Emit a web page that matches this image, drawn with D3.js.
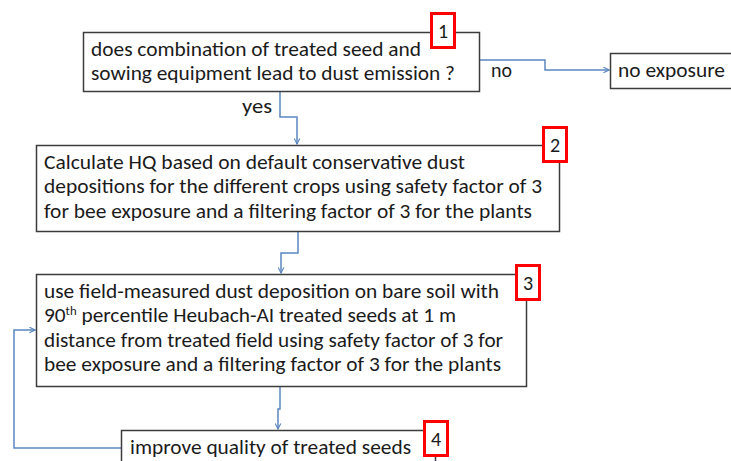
<!DOCTYPE html>
<html>
<head>
<meta charset="utf-8">
<script src="https://cdn.jsdelivr.net/npm/d3@7"></script>
<style>
  html, body { margin: 0; padding: 0; background: #fff; }
  svg text { font-family: Carlito, Calibri, Lato, sans-serif; fill: #1b1b1b; }
</style>
</head>
<body>
<div id="chart"></div>
<script>
// Flow chart content
const stepLines = [
    ["does combination of treated seed and",
     "sowing equipment lead to dust emission ?"],
    ["Calculate HQ based on default conservative dust",
     "depositions for the different crops using safety factor of 3",
     "for bee exposure and a filtering factor of 3 for the plants"],
    ["use field-measured dust deposition on bare soil with",
     "90|th| percentile Heubach-AI treated seeds at 1 m",
     "distance from treated field using safety factor of 3 for",
     "bee exposure and a filtering factor of 3 for the plants"],
    ["improve quality of treated seeds"]
];
const stepNumbers = ["1", "2", "3", "4"];
const branchLabels = ["yes", "no"];
const endLabel = "no exposure";

// Layout (pixels)
const width = 731, height = 461;
const boxes = [
    {x: 83,  y: 32,  w: 396, h: 59},
    {x: 36,  y: 145, w: 523, h: 86},
    {x: 36,  y: 274, w: 490, h: 112},
    {x: 121, y: 430, w: 314, h: 60}
];
const lineWidths = [
    [330, 364],
    [421, 498, 488],
    [455, 412, 459, 457],
    [281]
];
const textPad = [8, 8, 8, 9];
const badges = [
    {x: 430, y: 12}, {x: 542, y: 126}, {x: 515, y: 264}, {x: 423, y: 420}
];
const endBox = {x: 610, y: 53, w: 140, h: 35};
const connectors = [
    [[280, 91], [280, 117], [297, 117], [297, 144]],
    [[479, 60], [545, 60], [545, 70], [609, 70]],
    [[298, 231], [298, 253], [281, 253], [281, 273]],
    [[280, 386], [280, 409], [278, 409], [278, 429]],
    [[121, 448], [14, 448], [14, 330], [35, 330]]
];
const labelPos = [{x: 242, y: 113, w: 30}, {x: 491, y: 77, w: 21}];

const colors = {
    box: "#3c3c3c",
    link: "#5b87c0",
    badge: "#ff0000"
};

const fontSize = 19.5;
const lineStep = 24.6;

const svg = d3.select("#chart")
    .append("svg")
    .attr("width", width)
    .attr("height", height);

// Arrow marker (open chevron)
svg.append("defs")
    .append("marker")
    .attr("id", "arrow")
    .attr("viewBox", "0 0 10 10")
    .attr("refX", 9)
    .attr("refY", 5)
    .attr("markerWidth", 7)
    .attr("markerHeight", 7)
    .attr("markerUnits", "userSpaceOnUse")
    .attr("orient", "auto")
    .append("path")
    .attr("d", "M1,1 L9,5 L1,9")
    .attr("fill", "none")
    .attr("stroke", colors.link)
    .attr("stroke-width", 1.6);

const line = d3.line();

// Connectors
svg.selectAll(".link")
    .data(connectors)
    .enter()
    .append("path")
    .attr("class", "link")
    .attr("d", line)
    .attr("fill", "none")
    .attr("stroke", colors.link)
    .attr("stroke-width", 1.5)
    .attr("marker-end", "url(#arrow)");

// Step boxes
const steps = svg.selectAll(".step")
    .data(boxes)
    .enter()
    .append("g")
    .attr("class", "step");

steps.append("rect")
    .attr("x", d => d.x + 0.5)
    .attr("y", d => d.y + 0.5)
    .attr("width", d => d.w)
    .attr("height", d => d.h)
    .attr("fill", "#fff")
    .attr("stroke", colors.box)
    .attr("stroke-width", 1.5);

steps.each(function(d, i) {
    const g = d3.select(this);
    stepLines[i].forEach((txt, j) => {
        const t = g.append("text")
            .attr("x", d.x + textPad[i])
            .attr("y", d.y + 23.5 + j * lineStep)
            .attr("font-size", fontSize)
            .attr("textLength", lineWidths[i][j])
            .attr("lengthAdjust", "spacingAndGlyphs");
        const parts = txt.split("|");
        if (parts.length === 1) {
            t.text(txt);
        } else {
            t.append("tspan").text(parts[0]);
            t.append("tspan")
                .attr("font-size", fontSize * 0.6)
                .attr("dy", -7)
                .text(parts[1]);
            t.append("tspan")
                .attr("dy", 7)
                .text(parts[2]);
        }
    });
});

// End box
svg.append("rect")
    .attr("x", endBox.x + 0.5)
    .attr("y", endBox.y + 0.5)
    .attr("width", endBox.w)
    .attr("height", endBox.h)
    .attr("fill", "#fff")
    .attr("stroke", colors.box)
    .attr("stroke-width", 1.5);

svg.append("text")
    .attr("x", endBox.x + 8)
    .attr("y", endBox.y + 24)
    .attr("font-size", fontSize)
    .attr("textLength", 107)
    .attr("lengthAdjust", "spacingAndGlyphs")
    .text(endLabel);

// Branch labels
svg.selectAll(".branch")
    .data(branchLabels)
    .enter()
    .append("text")
    .attr("class", "branch")
    .attr("x", (d, i) => labelPos[i].x)
    .attr("y", (d, i) => labelPos[i].y)
    .attr("font-size", fontSize)
    .attr("textLength", (d, i) => labelPos[i].w)
    .attr("lengthAdjust", "spacingAndGlyphs")
    .text(d => d);

// Numbered badges
const badge = svg.selectAll(".badge")
    .data(badges)
    .enter()
    .append("g")
    .attr("class", "badge");

badge.append("rect")
    .attr("x", d => d.x + 1.5)
    .attr("y", d => d.y + 1.5)
    .attr("width", 23)
    .attr("height", 34)
    .attr("fill", "#fff")
    .attr("stroke", colors.badge)
    .attr("stroke-width", 3);

badge.append("text")
    .attr("x", d => d.x + 13)
    .attr("y", d => d.y + 26)
    .attr("text-anchor", "middle")
    .attr("font-size", 20)
    .text((d, i) => stepNumbers[i]);
</script>
</body>
</html>
